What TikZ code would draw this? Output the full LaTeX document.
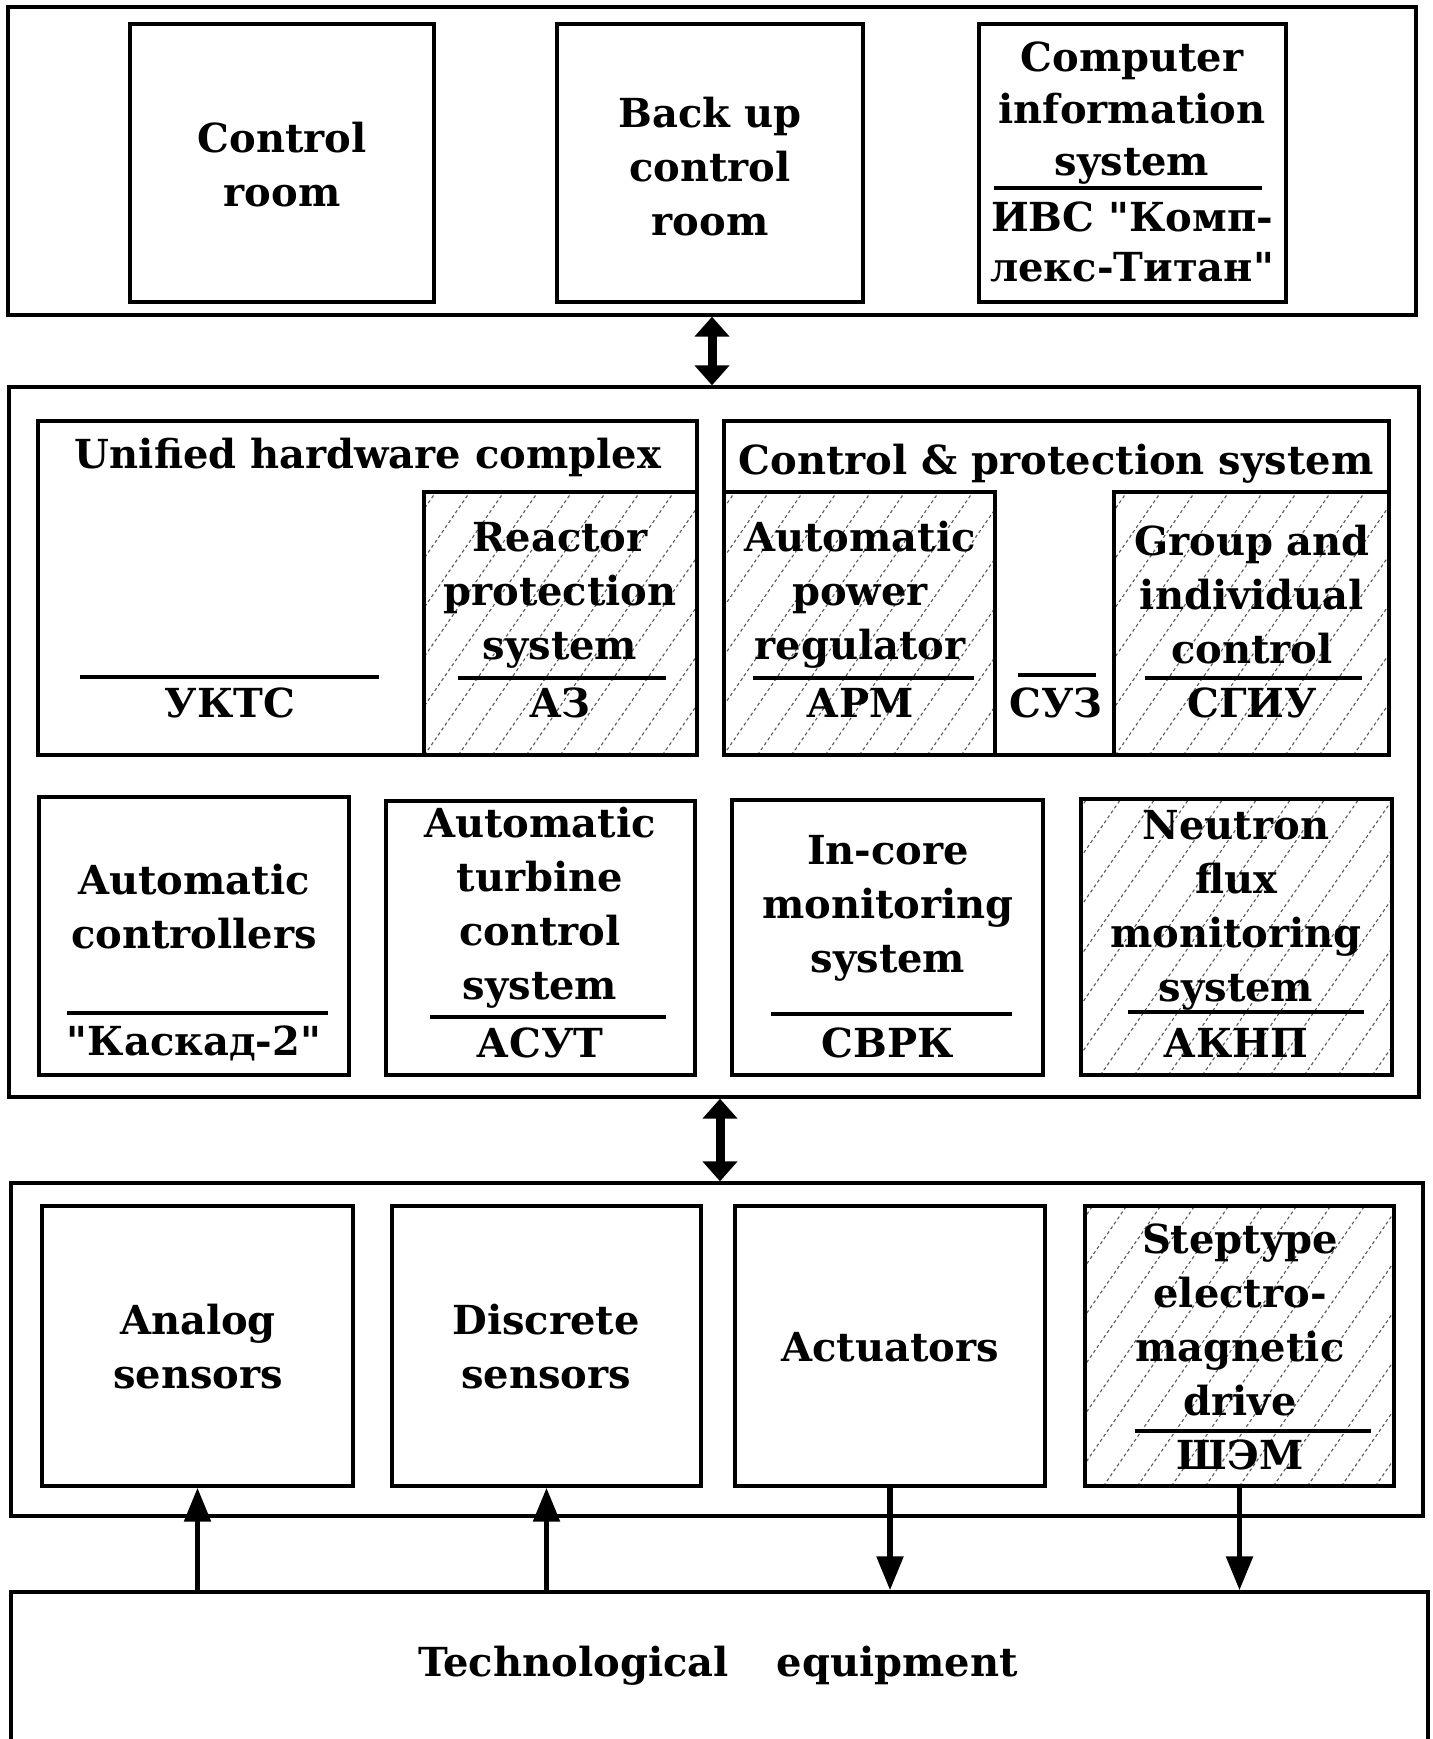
\documentclass[tikz,border=0pt]{standalone}
\usepackage{fontspec}
\newfontfamily\dvs{DejaVu Serif}
\usetikzlibrary{fit,arrows.meta}
\newcommand\tfnt{\dvs\bfseries\fontsize{20}{27}\selectfont}
\begin{document}
\begin{tikzpicture}[x=0.5pt,y=-0.5pt,
 box/.style={draw, line width=1.7pt, inner sep=0pt},
 hl/.style={line width=0.55pt, dash pattern=on 1.6pt off 1.4pt, black!65},
 hbox/.style={box, path picture={\foreach \k in {-11,...,6}{\draw[hl] ([xshift=\k*17pt]path picture bounding box.south) -- ++(200,-290);}}},
 txt/.style={font=\tfnt, align=center, inner sep=0pt},
 ul/.style={line width=1.6pt},
 big/.style={line width=4.5pt, {Triangle[length=10pt,width=17pt]}-{Triangle[length=10pt,width=17pt]}},
 sm/.style={line width=2.8pt, -{Triangle[length=17pt,width=13pt]}}
]
\fill[white] (0,0) rectangle (1432,1739);
\useasboundingbox (0,0) rectangle (1432,1739);

% ---------- top block
\node[box, fit={(8,7)(1416,315)}] (top) {};
\node[box, fit={(130,24)(434,302)}] (cr) {};
\node[box, fit={(557,24)(863,302)}] (bu) {};
\node[box, fit={(979,24)(1286,302)}] (ci) {};
\node[txt] (crt) at (282,165) {Control\\room};
\node[txt] (but) at (710,167) {Back up\\control\\room};
\node[txt, font=\dvs\bfseries\fontsize{20}{26}\selectfont] (cit) at (1132,113) {Computer\\information\\system};
\draw[ul] (994,188) -- (1262,188);
\node[txt, font=\dvs\bfseries\fontsize{20}{25}\selectfont] (cic) at (1132,242) {ИВС "Комп-\\лекс-Титан"};

% ---------- middle block
\node[box, fit={(9,387)(1419,1097)}] (mid) {};
\node[box, fit={(38,421)(697,755)}] (uh) {};
\node[hbox, fit={(424,492)(697,755)}] (az) {};
\node[box, fit={(724,421)(1389,755)}] (cp) {};
\node[hbox, fit={(724,492)(995,755)}] (arm) {};
\node[hbox, fit={(1114,492)(1389,755)}] (sgiu) {};

\node[txt] (uht) at (368,457) {Unified hardware complex};
\draw[ul] (80,677) -- (379,677);
\node[txt] (ukts) at (230,703) {УКТС};
\node[txt] (azt) at (560,595) {Reactor\\protection\\system};
\draw[ul] (458,678) -- (666,678);
\node[txt] (azc) at (560,703) {АЗ};

\node[txt] (cpt) at (1056,464) {Control \& protection system};
\node[txt] (armt) at (860,595) {Automatic\\power\\regulator};
\draw[ul] (753,678) -- (974,678);
\node[txt] (armc) at (860,703) {АРМ};
\draw[ul] (1018,675) -- (1096,675);
\node[txt] (suz) at (1056,703) {СУЗ};
\node[txt] (sgiut) at (1252,595) {Group and\\individual\\control};
\draw[ul] (1145,678) -- (1362,678);
\node[txt] (sgiuc) at (1252,703) {СГИУ};

\node[box, fit={(39,797)(349,1075)}] (kas) {};
\node[box, fit={(386,801)(695,1075)}] (asut) {};
\node[box, fit={(732,800)(1043,1075)}] (svrk) {};
\node[hbox, fit={(1081,799)(1392,1075)}] (aknp) {};

\node[txt] (kast) at (194,907) {Automatic\\controllers};
\draw[ul] (67,1013) -- (328,1013);
\node[txt] (kasc) at (194,1043) {"Каскад-2"};
\node[txt] (asutt) at (540,908) {Automatic\\turbine\\control\\system};
\draw[ul] (430,1017) -- (666,1017);
\node[txt] (asutc) at (540,1043) {АСУТ};
\node[txt] (svrkt) at (888,908) {In-core\\monitoring\\system};
\draw[ul] (771,1014) -- (1012,1014);
\node[txt] (svrkc) at (888,1043) {СВРК};
\node[txt] (aknpt) at (1236,910) {Neutron\\flux\\monitoring\\system};
\draw[ul] (1128,1012) -- (1364,1012);
\node[txt] (aknpc) at (1236,1043) {АКНП};

% ---------- bottom block
\node[box, fit={(11,1183)(1423,1516)}] (bot) {};
\node[box, fit={(42,1206)(353,1486)}] (an) {};
\node[box, fit={(392,1206)(701,1486)}] (ds) {};
\node[box, fit={(735,1206)(1045,1486)}] (ac) {};
\node[hbox, fit={(1085,1206)(1394,1486)}] (sd) {};
\node[txt] (ant) at (198,1347) {Analog\\sensors};
\node[txt] (dst) at (546,1347) {Discrete\\sensors};
\node[txt] (act) at (890,1347) {Actuators};
\node[txt] (sdt) at (1240,1320) {Steptype\\electro-\\magnetic\\drive};
\draw[ul] (1135,1431) -- (1371,1431);
\node[txt] (sdc) at (1240,1455) {ШЭМ};

\node[box, fit={(11,1592)(1428,1780)}] (tech) {};
\node[txt] (techt) at (718,1666) {Technological\hspace{24pt}equipment};

% ---------- connectors
\draw[big] (top.south) -- (top.south |- mid.north);
\draw[big] ([xshift=3pt]mid.south) -- ([xshift=3pt]mid.south |- bot.north);
\draw[sm] (tech.north -| an.south) -- (an.south);
\draw[sm] (tech.north -| ds.south) -- (ds.south);
\draw[sm] (ac.south) -- (ac.south |- tech.north);
\draw[sm] (sd.south) -- (sd.south |- tech.north);
\end{tikzpicture}
\end{document}
